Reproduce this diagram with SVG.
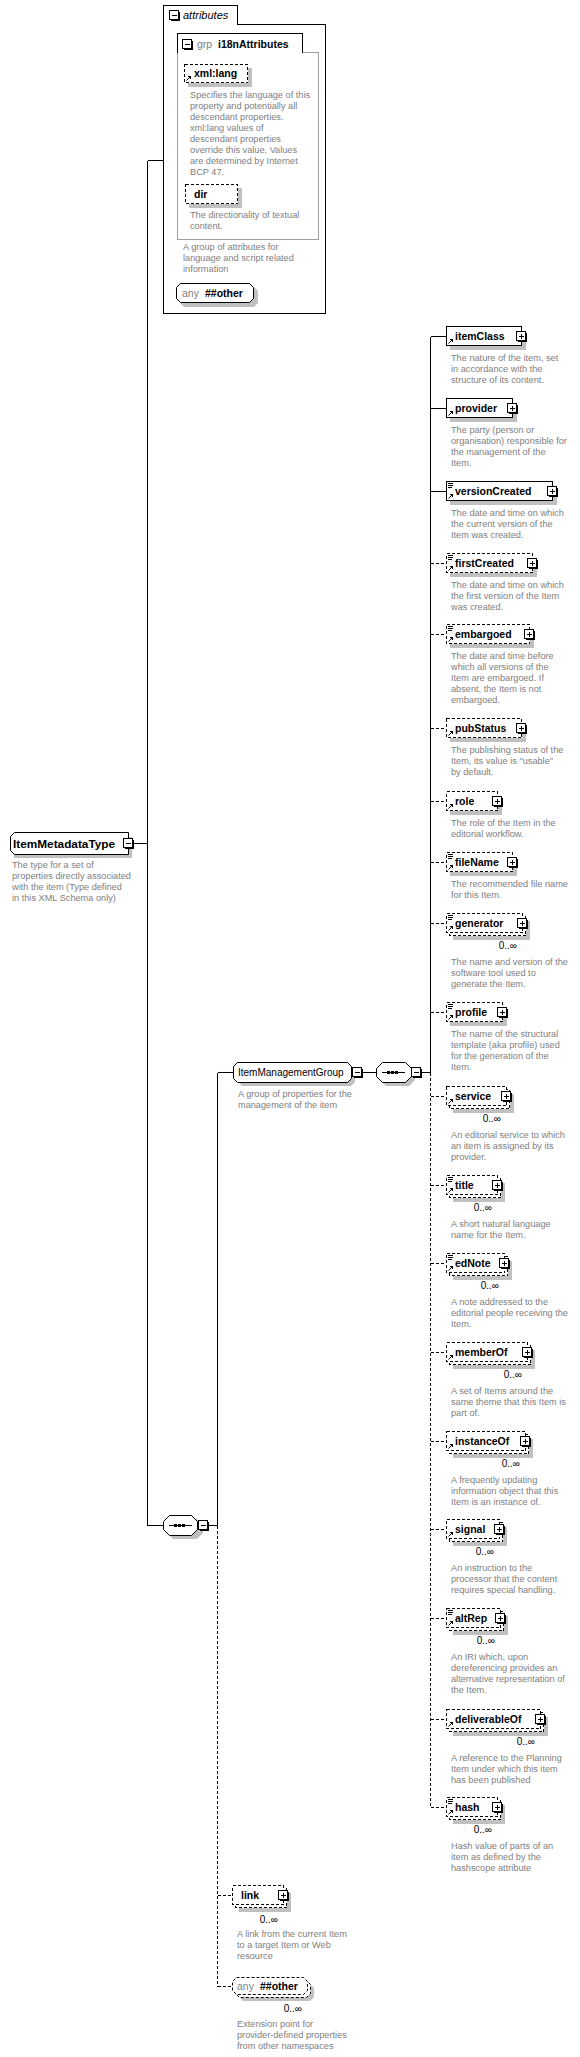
<svg xmlns="http://www.w3.org/2000/svg" xmlns:xlink="http://www.w3.org/1999/xlink" width="580" height="2057" viewBox="0 0 580 2057">
<style>
rect, path { shape-rendering: crispEdges; }
.oct { shape-rendering: auto; }
.ln { stroke:#000; stroke-width:1; fill:none; }
.dl { stroke:#000; stroke-width:1; fill:none; stroke-dasharray:3 2; }
.bx { fill:#fff; stroke:#000; stroke-width:1; }
.dbx { fill:#fff; stroke:#000; stroke-width:1; stroke-dasharray:3 2; }
.sh { fill:#c0c0c0; stroke:none; }
.lb { font-family:"Liberation Sans", Arial, sans-serif; font-size:10.5px; font-weight:bold; fill:#000; }
.rg { font-family:"Liberation Sans", Arial, sans-serif; font-size:10px; fill:#000; }
.gy { font-family:"Liberation Sans", Arial, sans-serif; font-size:10.5px; fill:#808080; }
.ds { font-family:"Liberation Sans", Arial, sans-serif; font-size:9.2px; fill:#808080; }
.oc { font-family:"Liberation Sans", Arial, sans-serif; font-size:10px; fill:#000; text-anchor:end; }
.it { font-family:"Liberation Sans", Arial, sans-serif; font-size:11px; font-style:italic; fill:#000; }
</style>
<defs>
<g id="pl"><rect x="-4.5" y="-4.5" width="9" height="9" fill="#fff" stroke="#000"/><path d="M5.5 -3.5V5.5H-3.5" stroke="#000" fill="none"/><path d="M-2 0.5H3M0.5 -2V3" stroke="#000" fill="none"/></g>
<g id="mi"><rect x="-4.5" y="-4.5" width="9" height="9" fill="#fff" stroke="#000"/><path d="M5.5 -3.5V5.5H-3.5" stroke="#000" fill="none"/><path d="M-2 0.5H3" stroke="#000" fill="none"/></g>
<g id="sc"><path d="M2 2.5H7M2 4.5H7M2 6.5H6" stroke="#000" fill="none"/></g>
<g id="ar"><path d="M2.5 -2.5L5.5 -5.5" stroke="#000" fill="none" class="oct"/><path d="M3.5 -7H7V-3.5Z" fill="#000"/></g>
<g id="seqi"><path d="M6 0.5H29" stroke="#000" fill="none"/><rect x="11" y="-1" width="3" height="3" fill="#000"/><rect x="15" y="-1" width="3" height="3" fill="#000"/><rect x="19" y="-1" width="3" height="3" fill="#000"/></g>
</defs>
<rect width="580" height="2057" fill="#fff"/>

<g id="connectors">
<path class="ln" d="M147.5 160.5V1525.5M147.5 160.5H163M133 843.5H147.5M147.5 1525.5H163M208 1525.5H217.5M217.5 1072.5V1525.5M217.5 1072.5H233M362 1072.5H376M422 1072.5H430.5M430.5 336.5V1072.5M430.5 336.5H446M430.5 408.5H446M430.5 491.5H446"/>
<path class="dl" d="M217.5 1525.5V1986.5M217.5 1895.5H232M217.5 1986.5H232M430.5 1072.5V1807.5M430.5 563.5H446M430.5 634.5H446M430.5 728.5H446M430.5 801.5H446M430.5 862.5H446M430.5 923.5H446M430.5 1012.5H446M430.5 1096.5H446M430.5 1185.5H446M430.5 1263.5H446M430.5 1352.5H446M430.5 1441.5H446M430.5 1529.5H446M430.5 1618.5H446M430.5 1719.5H446M430.5 1807.5H446"/>
</g>

<g id="ItemMetadataType">
<path class="sh oct" d="M18 837H132V858H14V841Z"/>
<path class="bx oct" d="M14.5 832.5H128.5V854.5H14.5L10.5 850.5V836.5Z"/>
<text class="lb" x="13" y="847.5" style="font-size:11.8px">ItemMetadataType</text>
<use xlink:href="#mi" x="128" y="843"/>
<text class="ds" x="12" y="868">The type for a set of</text>
<text class="ds" x="12" y="879">properties directly associated</text>
<text class="ds" x="12" y="890">with the item (Type defined</text>
<text class="ds" x="12" y="901">in this XML Schema only)</text>
</g>

<g id="attributes">
<path class="bx" d="M163.5 313.5V5.5H237.5V24.5H325.5V313.5Z"/>
<use xlink:href="#mi" x="174" y="15"/>
<text class="it" x="183" y="19">attributes</text>
</g>

<g id="i18nAttributes">
<path d="M177.5 52.5V239.5H318.5V52.5H302.5" fill="none" stroke="#a0a0a0"/>
<path class="ln" d="M177.5 52.5V33.5H302.5V52.5"/>
<use xlink:href="#mi" x="187" y="44"/>
<text class="gy" x="197" y="48">grp</text>
<text class="lb" x="218" y="48">i18nAttributes</text>
<text class="ds" x="183" y="250">A group of attributes for</text>
<text class="ds" x="183" y="261">language and script related</text>
<text class="ds" x="183" y="272">information</text>
</g>

<g id="xml-lang">
<rect class="sh" x="188" y="68" width="64" height="19"/>
<rect class="dbx" x="184.5" y="64.5" width="63" height="18"/>
<use xlink:href="#ar" x="184" y="83"/>
<text class="lb" x="194" y="77">xml:lang</text>
<text class="ds" x="190" y="98">Specifies the language of this</text>
<text class="ds" x="190" y="109">property and potentially all</text>
<text class="ds" x="190" y="120">descendant properties.</text>
<text class="ds" x="190" y="131">xml:lang values of</text>
<text class="ds" x="190" y="142">descendant properties</text>
<text class="ds" x="190" y="153">override this value. Values</text>
<text class="ds" x="190" y="164">are determined by Internet</text>
<text class="ds" x="190" y="175">BCP 47.</text>
</g>

<g id="dir">
<rect class="sh" x="189" y="188" width="53" height="20"/>
<rect class="dbx" x="185.5" y="184.5" width="52" height="19"/>
<text class="lb" x="194" y="198">dir</text>
<text class="ds" x="190" y="218">The directionality of textual</text>
<text class="ds" x="190" y="229">content.</text>
</g>

<g id="anyAttr">
<path class="sh oct" d="M184 287H254L258 291V303L254 307H184L180 303V291Z"/>
<path class="bx oct" d="M180.5 283.5H249.5L253.5 287.5V298.5L249.5 302.5H180.5L176.5 298.5V287.5Z"/>
<text class="gy" x="182" y="297">any</text>
<text class="lb" x="205" y="297">##other</text>
</g>

<g id="seqTop">
<path class="sh oct" d="M173 1519H197L203 1525V1533L197 1539H173L167 1533V1525Z"/>
<path class="bx oct" d="M169.5 1515.5H191.5L197.5 1521.5V1529.5L191.5 1535.5H169.5L163.5 1529.5V1521.5Z"/>
<use xlink:href="#seqi" x="163" y="1525"/>
<use xlink:href="#mi" x="203" y="1525"/>
</g>

<g id="ItemManagementGroup">
<path class="sh oct" d="M242 1066H351L355 1070V1082L351 1086H242L238 1082V1070Z"/>
<path class="bx oct" d="M237.5 1062.5H347.5L351.5 1066.5V1078.5L347.5 1082.5H237.5L233.5 1078.5V1066.5Z"/>
<text class="rg" x="238" y="1076">ItemManagementGroup</text>
<use xlink:href="#mi" x="357" y="1072"/>
<text class="ds" x="238" y="1097">A group of properties for the</text>
<text class="ds" x="238" y="1108">management of the item</text>
</g>

<g id="seqGroup">
<path class="sh oct" d="M386 1066H409L415 1072V1080L409 1086H386L380 1080V1072Z"/>
<path class="bx oct" d="M382.5 1062.5H405.5L411.5 1068.5V1076.5L405.5 1082.5H382.5L376.5 1076.5V1068.5Z"/>
<use xlink:href="#seqi" x="376" y="1072"/>
<use xlink:href="#mi" x="416" y="1072"/>
</g>

<g id="itemClass">
<rect class="sh" x="450" y="331" width="76" height="19"/>
<rect class="bx" x="446.5" y="326.5" width="75" height="19"/>
<use xlink:href="#ar" x="446" y="346"/>
<text class="lb" x="455" y="340">itemClass</text>
<use xlink:href="#pl" x="521" y="336"/>
<text class="ds" x="451" y="361">The nature of the item, set</text>
<text class="ds" x="451" y="372">in accordance with the</text>
<text class="ds" x="451" y="383">structure of its content.</text>
</g>

<g id="provider">
<rect class="sh" x="450" y="403" width="67" height="19"/>
<rect class="bx" x="446.5" y="398.5" width="66" height="19"/>
<use xlink:href="#ar" x="446" y="418"/>
<text class="lb" x="455" y="412">provider</text>
<use xlink:href="#pl" x="512" y="408"/>
<text class="ds" x="451" y="433">The party (person or</text>
<text class="ds" x="451" y="444">organisation) responsible for</text>
<text class="ds" x="451" y="455">the management of the</text>
<text class="ds" x="451" y="466">Item.</text>
</g>

<g id="versionCreated">
<rect class="sh" x="450" y="486" width="107" height="19"/>
<rect class="bx" x="446.5" y="481.5" width="106" height="19"/>
<use xlink:href="#sc" x="446" y="481"/>
<use xlink:href="#ar" x="446" y="501"/>
<text class="lb" x="455" y="495">versionCreated</text>
<use xlink:href="#pl" x="552" y="491"/>
<text class="ds" x="451" y="516">The date and time on which</text>
<text class="ds" x="451" y="527">the current version of the</text>
<text class="ds" x="451" y="538">Item was created.</text>
</g>

<g id="firstCreated">
<rect class="sh" x="450" y="558" width="87" height="19"/>
<rect class="dbx" x="446.5" y="553.5" width="86" height="19"/>
<use xlink:href="#sc" x="446" y="553"/>
<use xlink:href="#ar" x="446" y="573"/>
<text class="lb" x="455" y="567">firstCreated</text>
<use xlink:href="#pl" x="532" y="563"/>
<text class="ds" x="451" y="588">The date and time on which</text>
<text class="ds" x="451" y="599">the first version of the Item</text>
<text class="ds" x="451" y="610">was created.</text>
</g>

<g id="embargoed">
<rect class="sh" x="450" y="629" width="84" height="19"/>
<rect class="dbx" x="446.5" y="624.5" width="83" height="19"/>
<use xlink:href="#sc" x="446" y="624"/>
<use xlink:href="#ar" x="446" y="644"/>
<text class="lb" x="455" y="638">embargoed</text>
<use xlink:href="#pl" x="529" y="634"/>
<text class="ds" x="451" y="659">The date and time before</text>
<text class="ds" x="451" y="670">which all versions of the</text>
<text class="ds" x="451" y="681">Item are embargoed. If</text>
<text class="ds" x="451" y="692">absent, the Item is not</text>
<text class="ds" x="451" y="703">embargoed.</text>
</g>

<g id="pubStatus">
<rect class="sh" x="450" y="723" width="76" height="19"/>
<rect class="dbx" x="446.5" y="718.5" width="75" height="19"/>
<use xlink:href="#ar" x="446" y="738"/>
<text class="lb" x="455" y="732">pubStatus</text>
<use xlink:href="#pl" x="521" y="728"/>
<text class="ds" x="451" y="753">The publishing status of the</text>
<text class="ds" x="451" y="764">Item, its value is "usable"</text>
<text class="ds" x="451" y="775">by default.</text>
</g>

<g id="role">
<rect class="sh" x="450" y="796" width="52" height="19"/>
<rect class="dbx" x="446.5" y="791.5" width="51" height="19"/>
<use xlink:href="#ar" x="446" y="811"/>
<text class="lb" x="455" y="805">role</text>
<use xlink:href="#pl" x="497" y="801"/>
<text class="ds" x="451" y="826">The role of the Item in the</text>
<text class="ds" x="451" y="837">editorial workflow.</text>
</g>

<g id="fileName">
<rect class="sh" x="450" y="857" width="67" height="19"/>
<rect class="dbx" x="446.5" y="852.5" width="66" height="19"/>
<use xlink:href="#sc" x="446" y="852"/>
<use xlink:href="#ar" x="446" y="872"/>
<text class="lb" x="455" y="866">fileName</text>
<use xlink:href="#pl" x="512" y="862"/>
<text class="ds" x="451" y="887">The recommended file name</text>
<text class="ds" x="451" y="898">for this Item.</text>
</g>

<g id="generator">
<rect class="sh" x="453" y="921" width="77" height="19"/>
<rect class="dbx" x="449.5" y="916.5" width="76" height="19"/>
<rect class="dbx" x="446.5" y="913.5" width="76" height="19"/>
<use xlink:href="#sc" x="446" y="913"/>
<use xlink:href="#ar" x="446" y="933"/>
<text class="lb" x="455" y="927">generator</text>
<use xlink:href="#pl" x="522" y="923"/>
<text class="oc" x="517" y="949">0..∞</text>
<text class="ds" x="451" y="965">The name and version of the</text>
<text class="ds" x="451" y="976">software tool used to</text>
<text class="ds" x="451" y="987">generate the Item.</text>
</g>

<g id="profile">
<rect class="sh" x="450" y="1007" width="57" height="19"/>
<rect class="dbx" x="446.5" y="1002.5" width="56" height="19"/>
<use xlink:href="#sc" x="446" y="1002"/>
<use xlink:href="#ar" x="446" y="1022"/>
<text class="lb" x="455" y="1016">profile</text>
<use xlink:href="#pl" x="502" y="1012"/>
<text class="ds" x="451" y="1037">The name of the structural</text>
<text class="ds" x="451" y="1048">template (aka profile) used</text>
<text class="ds" x="451" y="1059">for the generation of the</text>
<text class="ds" x="451" y="1070">Item.</text>
</g>

<g id="service">
<rect class="sh" x="453" y="1094" width="61" height="19"/>
<rect class="dbx" x="449.5" y="1089.5" width="60" height="19"/>
<rect class="dbx" x="446.5" y="1086.5" width="60" height="19"/>
<use xlink:href="#ar" x="446" y="1106"/>
<text class="lb" x="455" y="1100">service</text>
<use xlink:href="#pl" x="506" y="1096"/>
<text class="oc" x="501" y="1122">0..∞</text>
<text class="ds" x="451" y="1138">An editorial service to which</text>
<text class="ds" x="451" y="1149">an item is assigned by its</text>
<text class="ds" x="451" y="1160">provider.</text>
</g>

<g id="title">
<rect class="sh" x="453" y="1183" width="52" height="19"/>
<rect class="dbx" x="449.5" y="1178.5" width="51" height="19"/>
<rect class="dbx" x="446.5" y="1175.5" width="51" height="19"/>
<use xlink:href="#sc" x="446" y="1175"/>
<use xlink:href="#ar" x="446" y="1195"/>
<text class="lb" x="455" y="1189">title</text>
<use xlink:href="#pl" x="497" y="1185"/>
<text class="oc" x="492" y="1211">0..∞</text>
<text class="ds" x="451" y="1227">A short natural language</text>
<text class="ds" x="451" y="1238">name for the Item.</text>
</g>

<g id="edNote">
<rect class="sh" x="453" y="1261" width="59" height="19"/>
<rect class="dbx" x="449.5" y="1256.5" width="58" height="19"/>
<rect class="dbx" x="446.5" y="1253.5" width="58" height="19"/>
<use xlink:href="#sc" x="446" y="1253"/>
<use xlink:href="#ar" x="446" y="1273"/>
<text class="lb" x="455" y="1267">edNote</text>
<use xlink:href="#pl" x="504" y="1263"/>
<text class="oc" x="499" y="1289">0..∞</text>
<text class="ds" x="451" y="1305">A note addressed to the</text>
<text class="ds" x="451" y="1316">editorial people receiving the</text>
<text class="ds" x="451" y="1327">Item.</text>
</g>

<g id="memberOf">
<rect class="sh" x="453" y="1350" width="82" height="19"/>
<rect class="dbx" x="449.5" y="1345.5" width="81" height="19"/>
<rect class="dbx" x="446.5" y="1342.5" width="81" height="19"/>
<use xlink:href="#ar" x="446" y="1362"/>
<text class="lb" x="455" y="1356">memberOf</text>
<use xlink:href="#pl" x="527" y="1352"/>
<text class="oc" x="522" y="1378">0..∞</text>
<text class="ds" x="451" y="1394">A set of Items around the</text>
<text class="ds" x="451" y="1405">same theme that this Item is</text>
<text class="ds" x="451" y="1416">part of.</text>
</g>

<g id="instanceOf">
<rect class="sh" x="453" y="1439" width="80" height="19"/>
<rect class="dbx" x="449.5" y="1434.5" width="79" height="19"/>
<rect class="dbx" x="446.5" y="1431.5" width="79" height="19"/>
<use xlink:href="#ar" x="446" y="1451"/>
<text class="lb" x="455" y="1445">instanceOf</text>
<use xlink:href="#pl" x="525" y="1441"/>
<text class="oc" x="520" y="1467">0..∞</text>
<text class="ds" x="451" y="1483">A frequently updating</text>
<text class="ds" x="451" y="1494">information object that this</text>
<text class="ds" x="451" y="1505">Item is an instance of.</text>
</g>

<g id="signal">
<rect class="sh" x="453" y="1527" width="54" height="19"/>
<rect class="dbx" x="449.5" y="1522.5" width="53" height="19"/>
<rect class="dbx" x="446.5" y="1519.5" width="53" height="19"/>
<use xlink:href="#ar" x="446" y="1539"/>
<text class="lb" x="455" y="1533">signal</text>
<use xlink:href="#pl" x="499" y="1529"/>
<text class="oc" x="494" y="1555">0..∞</text>
<text class="ds" x="451" y="1571">An instruction to the</text>
<text class="ds" x="451" y="1582">processor that the content</text>
<text class="ds" x="451" y="1593">requires special handling.</text>
</g>

<g id="altRep">
<rect class="sh" x="453" y="1616" width="55" height="19"/>
<rect class="dbx" x="449.5" y="1611.5" width="54" height="19"/>
<rect class="dbx" x="446.5" y="1608.5" width="54" height="19"/>
<use xlink:href="#sc" x="446" y="1608"/>
<use xlink:href="#ar" x="446" y="1628"/>
<text class="lb" x="455" y="1622">altRep</text>
<use xlink:href="#pl" x="500" y="1618"/>
<text class="oc" x="495" y="1644">0..∞</text>
<text class="ds" x="451" y="1660">An IRI which, upon</text>
<text class="ds" x="451" y="1671">dereferencing provides an</text>
<text class="ds" x="451" y="1682">alternative representation of</text>
<text class="ds" x="451" y="1693">the Item.</text>
</g>

<g id="deliverableOf">
<rect class="sh" x="453" y="1717" width="95" height="19"/>
<rect class="dbx" x="449.5" y="1712.5" width="94" height="19"/>
<rect class="dbx" x="446.5" y="1709.5" width="94" height="19"/>
<use xlink:href="#ar" x="446" y="1729"/>
<text class="lb" x="455" y="1723">deliverableOf</text>
<use xlink:href="#pl" x="540" y="1719"/>
<text class="oc" x="535" y="1745">0..∞</text>
<text class="ds" x="451" y="1761">A reference to the Planning</text>
<text class="ds" x="451" y="1772">Item under which this item</text>
<text class="ds" x="451" y="1783">has been published</text>
</g>

<g id="hash">
<rect class="sh" x="453" y="1805" width="52" height="19"/>
<rect class="dbx" x="449.5" y="1800.5" width="51" height="19"/>
<rect class="dbx" x="446.5" y="1797.5" width="51" height="19"/>
<use xlink:href="#sc" x="446" y="1797"/>
<use xlink:href="#ar" x="446" y="1817"/>
<text class="lb" x="455" y="1811">hash</text>
<use xlink:href="#pl" x="497" y="1807"/>
<text class="oc" x="492" y="1833">0..∞</text>
<text class="ds" x="451" y="1849">Hash value of parts of an</text>
<text class="ds" x="451" y="1860">item as defined by the</text>
<text class="ds" x="451" y="1871">hashscope attribute</text>
</g>

<g id="link">
<rect class="sh" x="239" y="1893" width="52" height="19"/>
<rect class="dbx" x="235.5" y="1888.5" width="51" height="19"/>
<rect class="dbx" x="232.5" y="1885.5" width="51" height="19"/>
<text class="lb" x="241" y="1899">link</text>
<use xlink:href="#pl" x="283" y="1895"/>
<text class="oc" x="278" y="1923">0..∞</text>
<text class="ds" x="237" y="1937">A link from the current Item</text>
<text class="ds" x="237" y="1948">to a target Item or Web</text>
<text class="ds" x="237" y="1959">resource</text>
</g>

<g id="anyOther">
<path class="sh oct" d="M243 1984H310L314 1988V1997L310 2001H243L239 1997V1988Z"/>
<path class="dbx oct" d="M239.5 1980.5H306.5L310.5 1984.5V1993.5L306.5 1997.5H239.5L235.5 1993.5V1984.5Z"/>
<path class="dbx oct" d="M236.5 1977.5H303.5L307.5 1981.5V1990.5L303.5 1994.5H236.5L232.5 1990.5V1981.5Z"/>
<text class="gy" x="237" y="1990">any</text>
<text class="lb" x="260" y="1990">##other</text>
<text class="oc" x="302" y="2012">0..∞</text>
<text class="ds" x="237" y="2027">Extension point for</text>
<text class="ds" x="237" y="2038">provider-defined properties</text>
<text class="ds" x="237" y="2049">from other namespaces</text>
</g>
</svg>
